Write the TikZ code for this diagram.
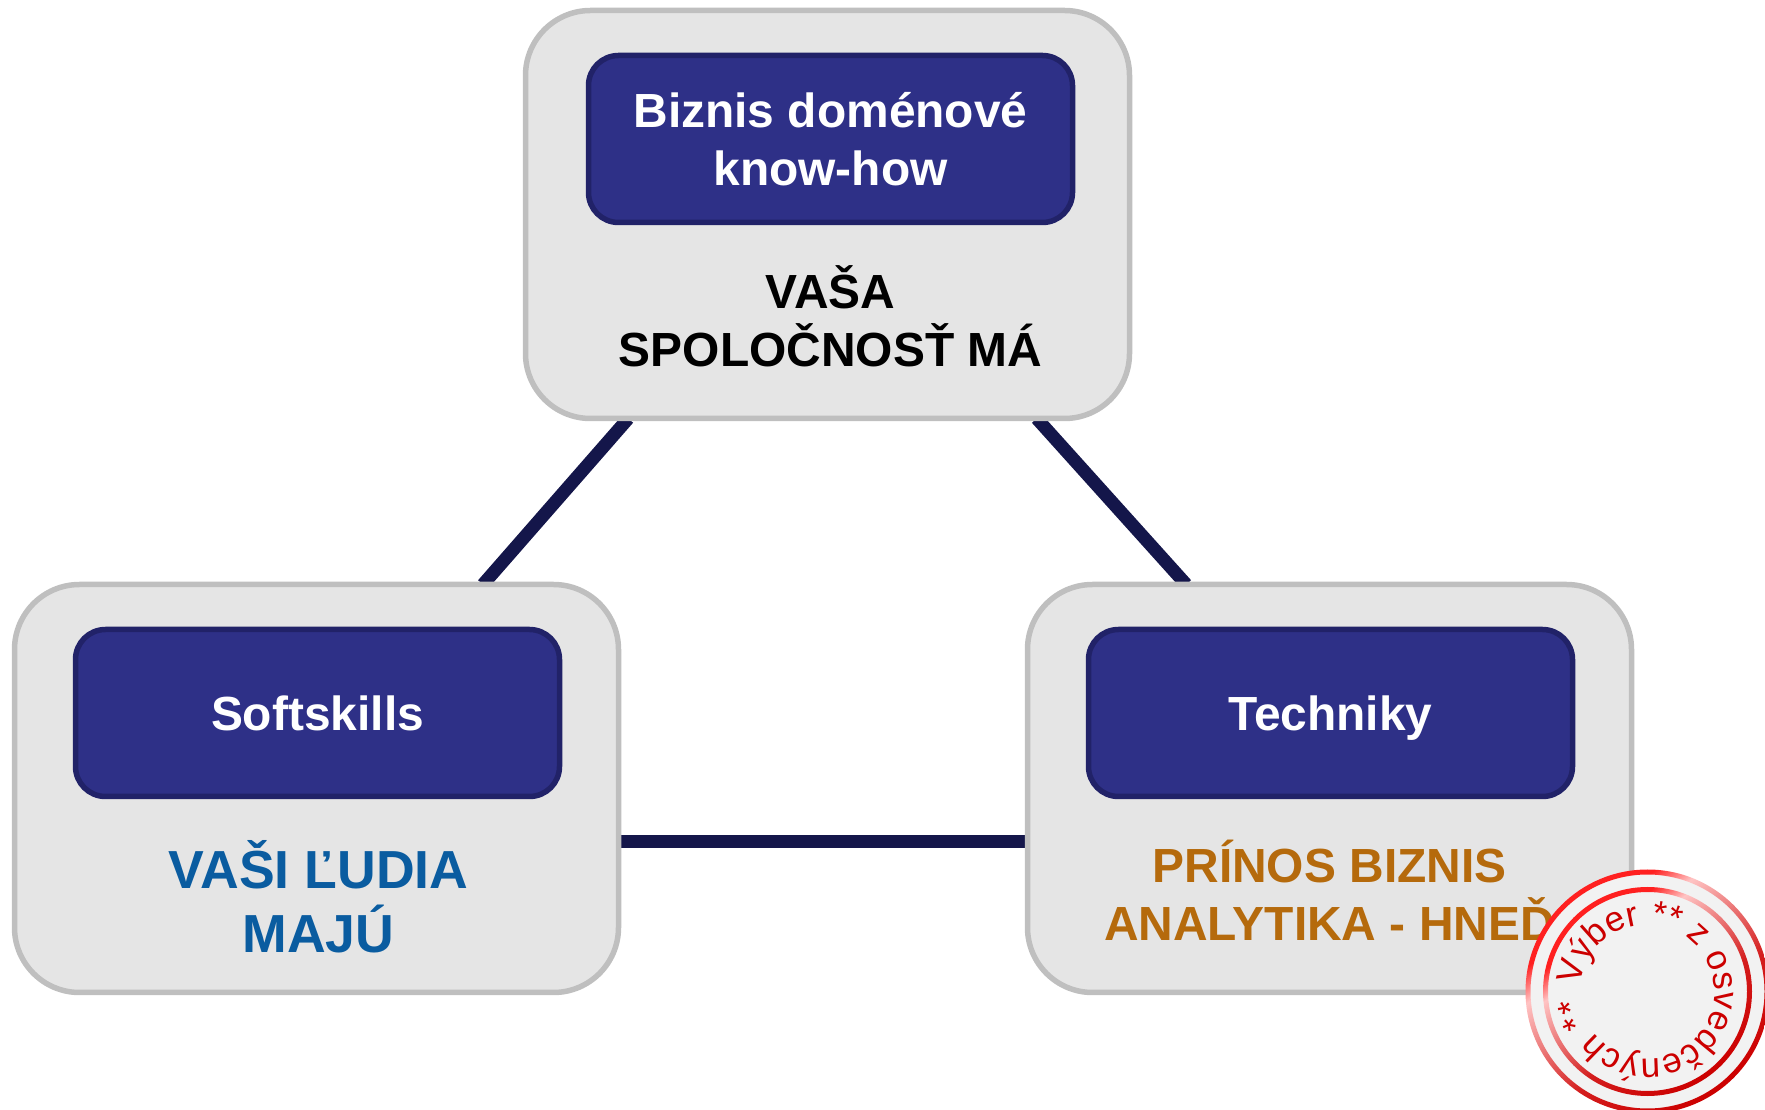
\documentclass[tikz,border=0pt]{standalone}
\usepackage{fontspec}
\setmainfont{Liberation Sans}
\usetikzlibrary{backgrounds}
\usetikzlibrary{decorations.text}
\definecolor{panelfill}{HTML}{E5E5E5}
\definecolor{paneldraw}{HTML}{BFBFBF}
\definecolor{headfill}{HTML}{2E3087}
\definecolor{headdraw}{HTML}{212268}
\definecolor{linkdark}{HTML}{14164A}
\definecolor{peopleblue}{HTML}{0A5CA0}
\definecolor{gainorange}{HTML}{B56A0C}
\definecolor{stampred}{HTML}{CC0000}
\definecolor{stampbright}{HTML}{FF2020}
\definecolor{stamppink}{HTML}{FFC4C4}
\pgfdeclareverticalshading{stampring}{100bp}{color(0bp)=(stampred); color(25bp)=(stampred); color(42bp)=(stampred!85!stamppink); color(63bp)=(stamppink); color(69bp)=(stampbright); color(100bp)=(stampbright)}
\tikzset{panel/.style = {draw=paneldraw, fill=panelfill, line width=5.5pt, rounded corners=65pt, minimum width=604pt, minimum height=408pt, outer sep=0, inner sep=0}}
\tikzset{head/.style = {draw=headdraw, fill=headfill, line width=5.5pt, rounded corners=30pt, minimum width=484pt, minimum height=167pt, outer sep=0, inner sep=0, text=white, align=center, font=\fontsize{47.9}{58}\selectfont\bfseries}}
\tikzset{caption/.style = {align=center, inner sep=0, font=\fontsize{47.9}{57.8}\selectfont\bfseries}}
\tikzset{link/.style = {draw=linkdark, line width=13pt}}
\tikzset{ring/.style = {shading=stampring, shading angle=37, even odd rule}}
\tikzset{stamptext/.style = {decorate, decoration={text along path, text format delimiters={|}{|}, text={|\fontsize{35}{35}\selectfont\color{stampred}|#1}}}}

\begin{document}
\begin{tikzpicture}[x=1pt, y=1pt]
      \useasboundingbox (0, 0) rectangle (1765, 1109);

      \node [panel] (company) at (827.5, 894.5) {};
      \node [panel] (people) at (316.5, 320.5) {};
      \node [panel] (gain) at (1329.5, 320.5) {};

      \node [head] (domain) at (830.5, 970) {Biznis doménové\\know-how};
      \node [head] (softskills) at (317.5, 396) {Softskills};
      \node [head, text depth=0pt] (techniques) at (1330.5, 396) {Techniky};

      \node [caption] (companytext) at (830.5, 792.5) {VAŠA\\SPOLOČNOSŤ MÁ};
      \node [caption, text=peopleblue, font=\fontsize{53.6}{64}\selectfont\bfseries] (peopletext) at (318.5, 212) {VAŠI ĽUDIA\\MAJÚ};
      \node [caption, text=gainorange] (gaintext) at (1329.5, 218.5) {PRÍNOS BIZNIS\\ANALYTIKA - HNEĎ};

      \begin{scope}[on background layer]
        \draw [link] ([xshift=-199.3pt]company.south) -- ([xshift=166.5pt]people.north);
        \draw [link] ([xshift=209.3pt]company.south) -- ([xshift=-143.3pt]gain.north);
        \draw [link] ([yshift=-53pt]people.east) -- ([yshift=-53pt]gain.west);
      \end{scope}

      % stamp
      \coordinate (stampc) at (1647.5, 117.5);
      \fill [fill=black!5] (stampc) circle [radius=120];
      \shade [ring] (stampc) circle [radius=122] (stampc) circle [radius=117];
      \shade [ring] (stampc) circle [radius=104.5] (stampc) circle [radius=99.5];
      \path [stamptext={Výber}] (stampc) ++(175:67) arc [start angle=175, end angle=95, radius=67];
      \path [stamptext={** z osvedčených **}] (stampc) ++(87:67) arc [start angle=87, end angle=-178, radius=67];
    \end{tikzpicture}
\end{document}
